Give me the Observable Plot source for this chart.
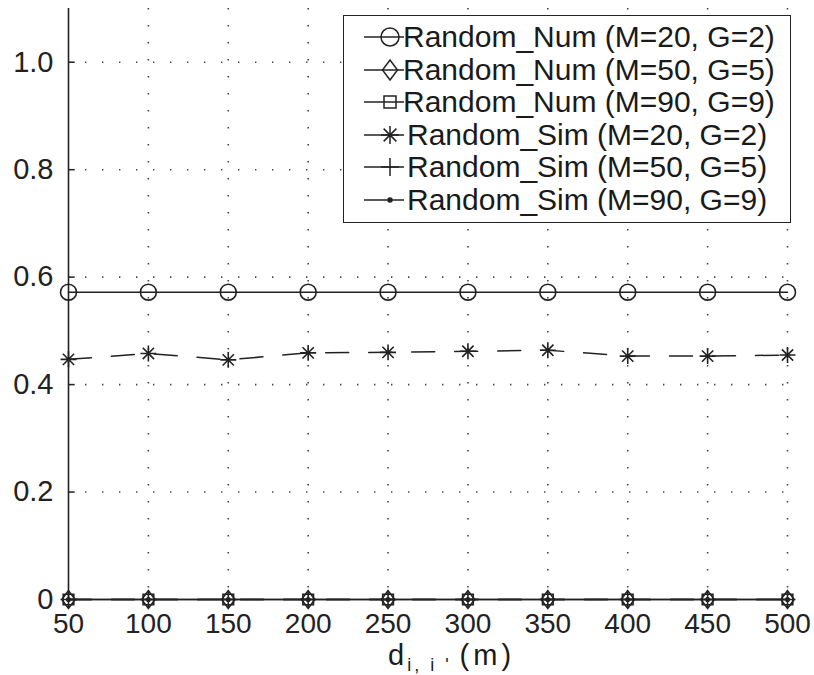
<!DOCTYPE html>
<html>
<head>
<meta charset="utf-8">
<script src="https://cdn.jsdelivr.net/npm/d3@7"></script>
<script src="https://cdn.jsdelivr.net/npm/@observablehq/plot@0.6"></script>
<style>
  html, body { margin: 0; padding: 0; background: #fff; }
  #wrap { position: relative; width: 814px; height: 675px; font-family: "Liberation Sans", Arial, sans-serif; color: #1a1a1a; }
  #legend { position: absolute; left: 343px; top: 15px; width: 448px; height: 208px; border: 1.6px solid #222; background: #fff; box-sizing: border-box; }
  .lrow { position: absolute; left: 0; height: 32px; display: flex; align-items: center; font-size: 30px; white-space: nowrap; }
  .lrow svg { flex: none; }
  #xlabel { position: absolute; left: 388px; top: 641px; line-height: 28px; font-size: 29px; white-space: nowrap; }
  #xlabel sub { font-size: 18px; vertical-align: -6px; letter-spacing: 3px; margin-left: 3px; margin-right: 8px; }
  #xlabel .u { letter-spacing: 4px; }
</style>
</head>
<body>
<div id="wrap"></div>
<script>
// ---- data ----
const distances = [50, 100, 150, 200, 250, 300, 350, 400, 450, 500];
const numM20G2 = [0.572, 0.572, 0.572, 0.572, 0.572, 0.572, 0.572, 0.572, 0.572, 0.572];
const numM50G5 = [0, 0, 0, 0, 0, 0, 0, 0, 0, 0];
const numM90G9 = [0, 0, 0, 0, 0, 0, 0, 0, 0, 0];
const simM20G2 = [0.447, 0.458, 0.446, 0.459, 0.460, 0.462, 0.464, 0.453, 0.453, 0.455];
const simM50G5 = [0, 0, 0, 0, 0, 0, 0, 0, 0, 0];
const simM90G9 = [0, 0, 0, 0, 0, 0, 0, 0, 0, 0];
const seriesNames = [
  "Random_Num (M=20, G=2)", "Random_Num (M=50, G=5)", "Random_Num (M=90, G=9)",
  "Random_Sim (M=20, G=2)", "Random_Sim (M=50, G=5)", "Random_Sim (M=90, G=9)"
];
const xTicks = [50, 100, 150, 200, 250, 300, 350, 400, 450, 500];
const yTicks = [0, 0.2, 0.4, 0.6, 0.8, 1.0];
const yTickLabels = ["0", "0.2", "0.4", "0.6", "0.8", "1.0"];

// ---- custom MATLAB-like symbols ----
const star8 = {draw(ctx, size) {
  const r = Math.sqrt(size) / 2, d = r * Math.SQRT1_2;
  ctx.moveTo(-r, 0); ctx.lineTo(r, 0);
  ctx.moveTo(0, -r); ctx.lineTo(0, r);
  ctx.moveTo(-d, -d); ctx.lineTo(d, d);
  ctx.moveTo(-d, d); ctx.lineTo(d, -d);
}};
const plusSym = {draw(ctx, size) {
  const r = Math.sqrt(size) / 2;
  ctx.moveTo(-r, 0); ctx.lineTo(r, 0);
  ctx.moveTo(0, -r); ctx.lineTo(0, r);
}};
const diamondSym = {draw(ctx, size) {
  const r = Math.sqrt(size) / 2;
  ctx.moveTo(0, -r); ctx.lineTo(r * 0.75, 0); ctx.lineTo(0, r); ctx.lineTo(-r * 0.75, 0); ctx.closePath();
}};
const squareSym = {draw(ctx, size) {
  const r = Math.sqrt(size) / 2;
  ctx.moveTo(-r, -r); ctx.lineTo(r, -r); ctx.lineTo(r, r); ctx.lineTo(-r, r); ctx.closePath();
}};
const circleSym = {draw(ctx, size) {
  const r = Math.sqrt(size) / 2;
  ctx.moveTo(r, 0); ctx.arc(0, 0, r, 0, 2 * Math.PI);
}};
// inward tick on the left axis: a short horizontal stroke going right
const tickRight = {draw(ctx, size) {
  const l = Math.sqrt(size);
  ctx.moveTo(0, 0); ctx.lineTo(l, 0);
}};

const ink = "#222";
const series = [
  {name: seriesNames[0], values: numM20G2, dash: null, symbol: circleSym, size: 18, fill: "none"},
  {name: seriesNames[1], values: numM50G5, dash: null, symbol: diamondSym, size: 20, fill: "none"},
  {name: seriesNames[2], values: numM90G9, dash: null, symbol: squareSym, size: 12, fill: "none"},
  {name: seriesNames[3], values: simM20G2, dash: "23,20", symbol: star8, size: 18, fill: "none"},
  {name: seriesNames[4], values: simM50G5, dash: "23,20", symbol: plusSym, size: 18, fill: "none"},
  {name: seriesNames[5], values: simM90G9, dash: "23,20", symbol: circleSym, size: 4, fill: ink}
];

const marks = [
  Plot.gridX(xTicks.slice(1), {stroke: "#444", strokeOpacity: 1, strokeWidth: 1.6, strokeDasharray: "1.4,15.6"}),
  Plot.gridY(yTicks.slice(1), {stroke: "#444", strokeOpacity: 1, strokeWidth: 1.6, strokeDasharray: "1.4,15.6"}),
];
for (const s of series) {
  const data = distances.map((x, i) => ({x, y: s.values[i]}));
  marks.push(Plot.line(data, {x: "x", y: "y", stroke: ink, strokeWidth: 1.5, strokeDasharray: s.dash}));
  marks.push(Plot.dot(data, {x: "x", y: "y", symbol: () => s.symbol, r: s.size / 2, stroke: ink, strokeWidth: 1.6, fill: s.fill}));
}
marks.push(
  Plot.ruleX([distances[0]], {stroke: ink, strokeWidth: 1.6}),
  Plot.dot(yTicks.slice(1), {x: () => distances[0], y: (d) => d, symbol: () => tickRight, r: 7 / 2, stroke: ink, strokeWidth: 1.5}),
  Plot.axisY({ticks: yTicks, tickSize: 0, tickPadding: 15, label: null, tickFormat: (d) => yTickLabels[yTicks.indexOf(d)], fontSize: 29, color: ink}),
  Plot.axisX({ticks: xTicks, tickSize: 0, tickPadding: 14, fontSize: 28, label: null, color: ink})
);

const chart = Plot.plot({
  width: 814,
  height: 675,
  marginLeft: 68,
  marginRight: 27,
  marginTop: 8,
  marginBottom: 76,
  style: {fontFamily: "Liberation Sans, Arial, sans-serif", background: "#fff", overflow: "visible"},
  x: {domain: [50, 500]},
  y: {domain: [0, 1.1]},
  symbol: {type: "identity"},
  marks
});

const wrap = document.getElementById("wrap");
wrap.appendChild(chart);

// ---- legend (HTML overlay) ----
const legend = document.createElement("div");
legend.id = "legend";
series.forEach((s, i) => {
  const row = document.createElement("div");
  row.className = "lrow";
  row.style.top = (5 + i * 32.6) + "px";
  row.style.left = "18px";
  const ns = "http://www.w3.org/2000/svg";
  const svg = document.createElementNS(ns, "svg");
  svg.setAttribute("width", 42); svg.setAttribute("height", 32);
  svg.style.marginRight = i < 3 ? "-1px" : "3px";
  const ln = document.createElementNS(ns, "line");
  ln.setAttribute("x1", 2); ln.setAttribute("x2", 42); ln.setAttribute("y1", 16); ln.setAttribute("y2", 16);
  ln.setAttribute("stroke", ink); ln.setAttribute("stroke-width", 1.5);
  svg.appendChild(ln);
  const p = document.createElementNS(ns, "path");
  p.setAttribute("d", d3.symbol(s.symbol, s.size * s.size)());
  p.setAttribute("transform", "translate(28,16)");
  p.setAttribute("stroke", ink); p.setAttribute("stroke-width", 1.5);
  p.setAttribute("fill", s.fill === "none" ? "none" : s.fill);
  svg.appendChild(p);
  row.appendChild(svg);
  const t = document.createElement("span");
  t.textContent = s.name;
  row.appendChild(t);
  legend.appendChild(row);
});
wrap.appendChild(legend);

// ---- x label with subscript ----
const xl = document.createElement("div");
xl.id = "xlabel";
xl.innerHTML = "d<sub>i, i '</sub><span class=\"u\">(m)</span>";
wrap.appendChild(xl);
</script>
</body>
</html>
